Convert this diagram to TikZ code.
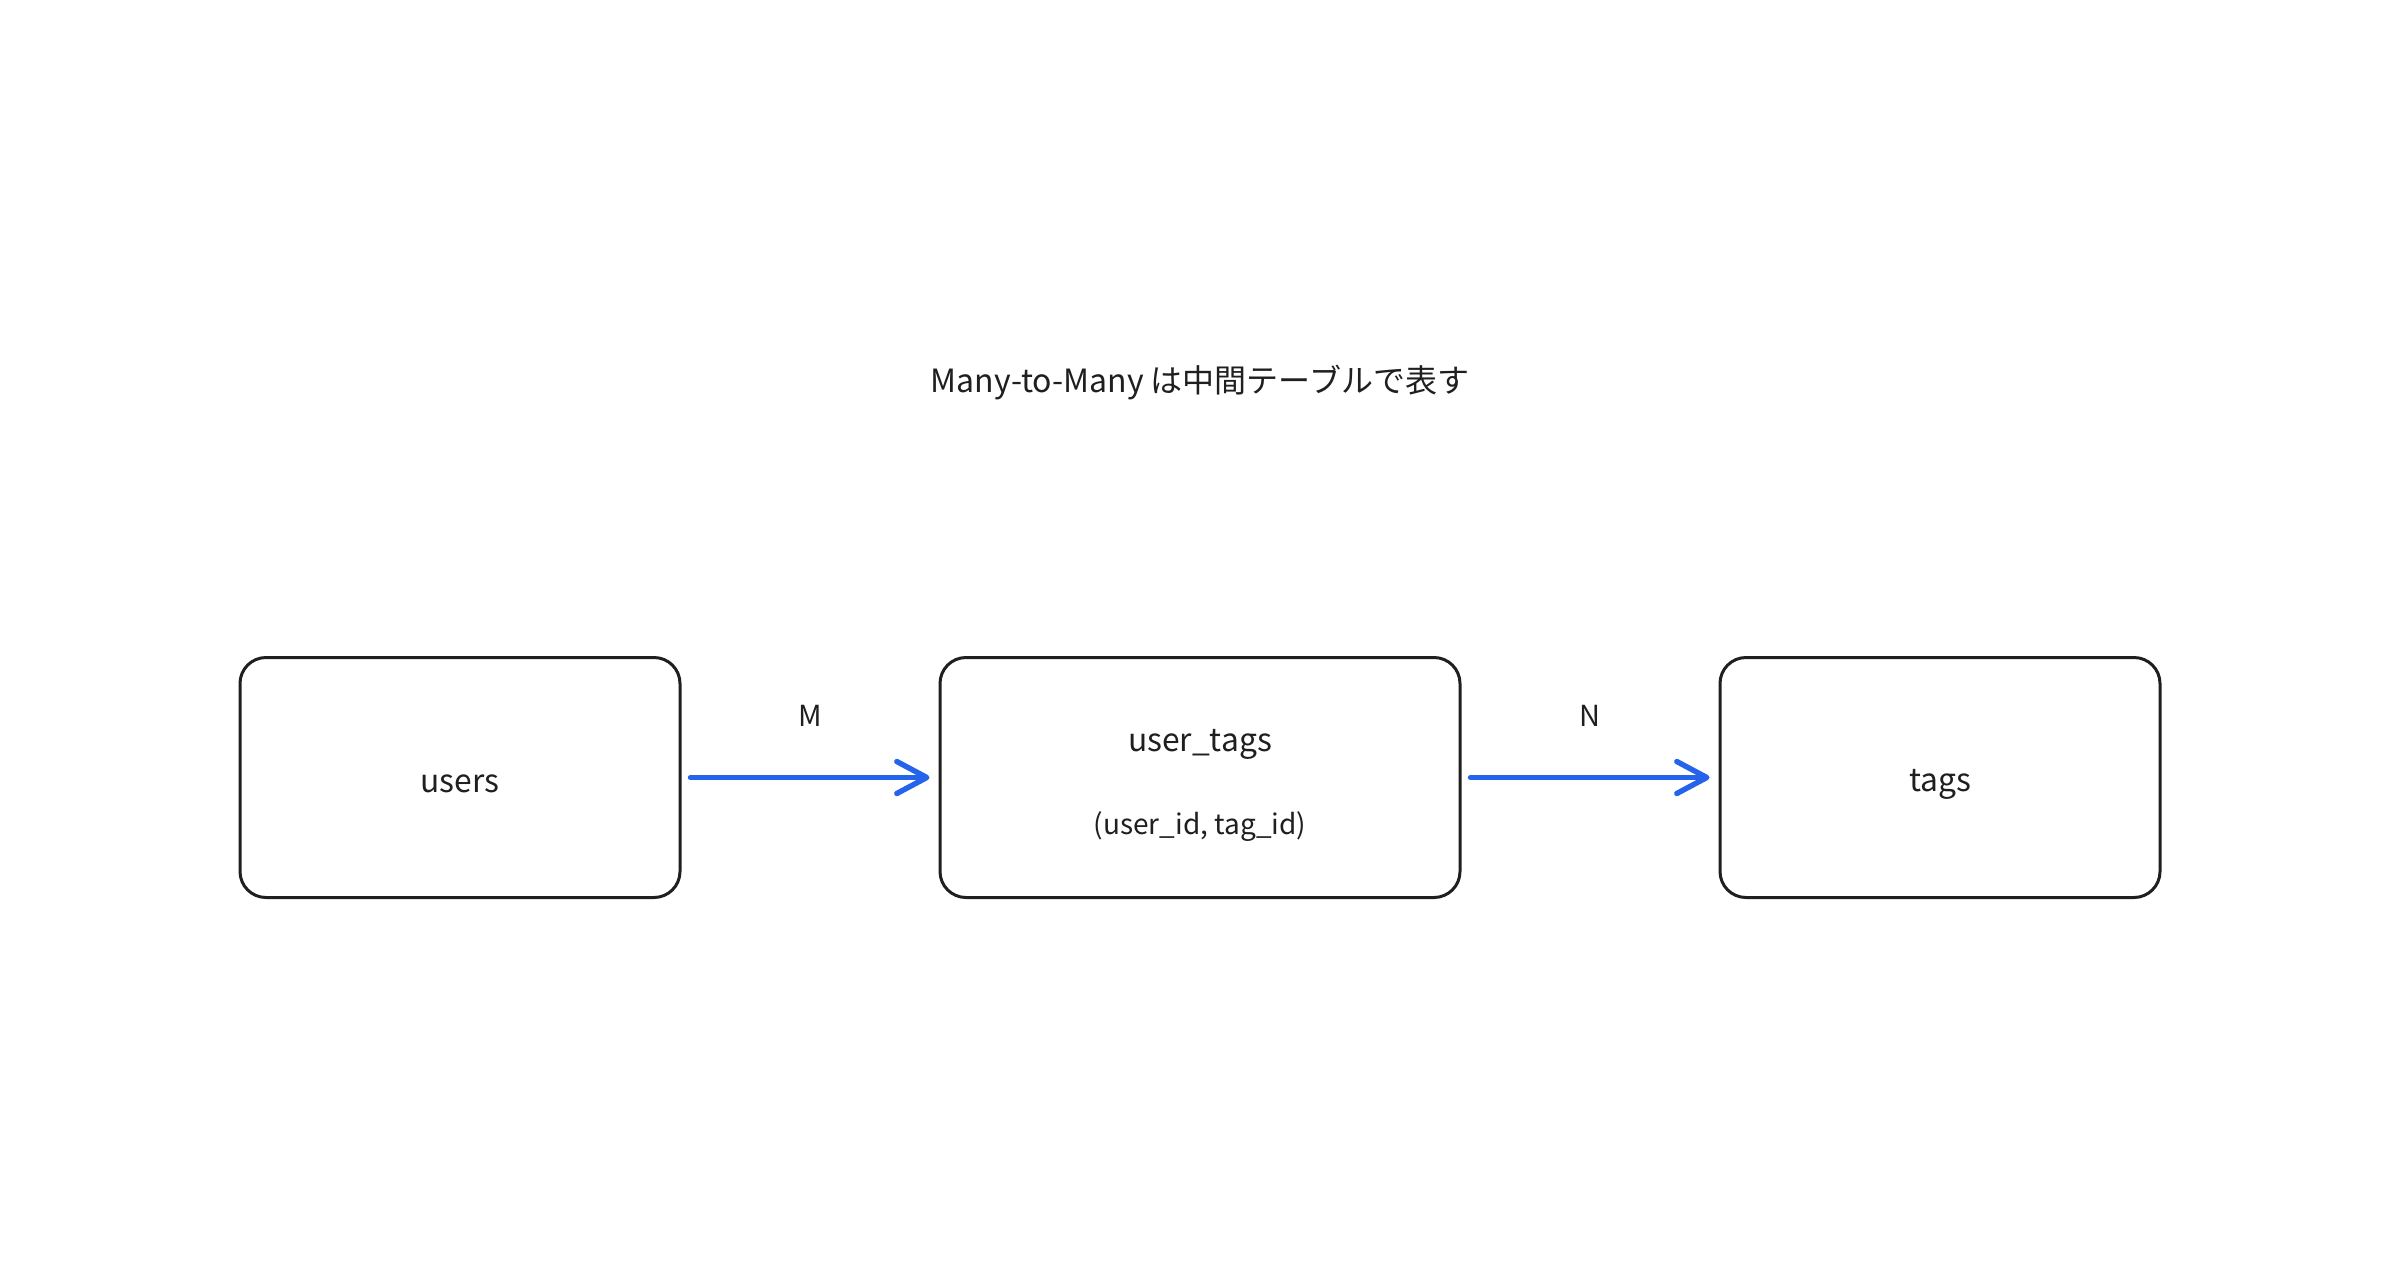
\documentclass[tikz,border=0pt]{standalone}
\usepackage{fontspec}
\setmainfont{Noto Sans CJK JP}
\usetikzlibrary{arrows.meta}
\definecolor{arrowblue}{HTML}{2563EB}
\definecolor{ink}{HTML}{1F1F1F}
\begin{document}
\begin{tikzpicture}[x=0.5pt,y=-0.5pt,
  tablebox/.style={draw=ink, line width=1.5pt, rounded corners=13pt, fill=white,
    minimum height=120pt, inner sep=0pt},
  titlelabel/.style={font=\fontsize{16}{19}\selectfont, text=ink},
  mainlabel/.style={font=\fontsize{15.9}{19}\selectfont, text=ink},
  sublabel/.style={font=\fontsize{14}{17}\selectfont, text=ink},
  cardlabel/.style={font=\fontsize{14.5}{17}\selectfont, text=ink},
  link/.style={draw=arrowblue, line width=2.7pt, line cap=round,
    -{Straight Barb[length=15pt,width=16pt,line width=2.7pt,round]},
    shorten <=4.5pt, shorten >=4.5pt}]
\useasboundingbox[fill=white] (0,0) rectangle (2400,1260);

\node[titlelabel] (title) at (1200,383) {Many-to-Many は中間テーブルで表す};

\node[tablebox, minimum width=220pt] (users) at (460,777.5) {};
\node[tablebox, minimum width=260pt] (usertags) at (1200,777.5) {};
\node[tablebox, minimum width=220pt] (tags) at (1940,777.5) {};

\node[mainlabel] (userslbl) at (460,784) {users};
\node[mainlabel] (utlbl) at (1200,744) {user\_tags};
\node[sublabel] (utsub) at (1200,827) {(user\_id, tag\_id)};
\node[mainlabel] (tagslbl) at (1940,784) {tags};

\draw[link] (users.east) -- (usertags.west);
\draw[link] (usertags.east) -- (tags.west);

\node[cardlabel] (m) at (810,716) {M};
\node[cardlabel] (n) at (1590,716) {N};
\end{tikzpicture}
\end{document}
